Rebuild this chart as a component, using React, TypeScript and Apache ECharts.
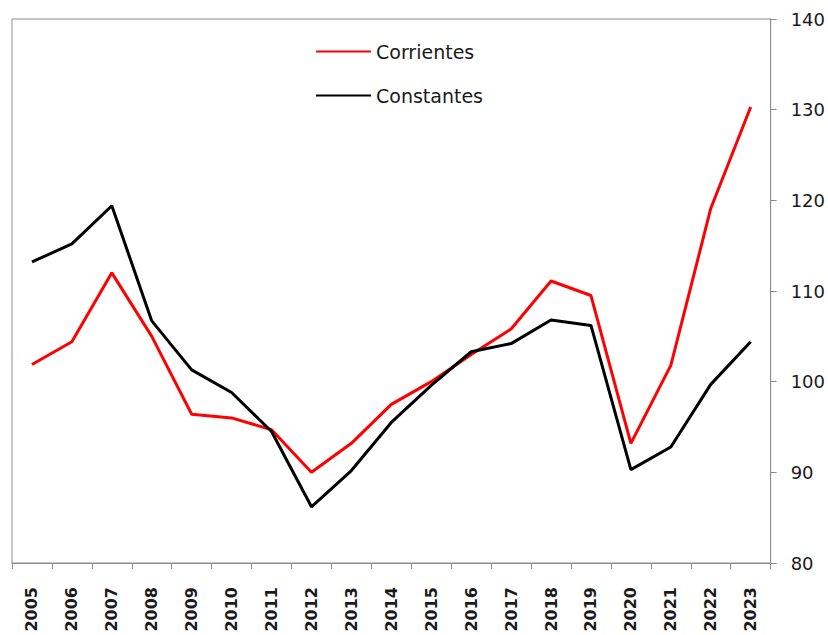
import React, { useEffect, useRef } from "react";
import * as echarts from "echarts";

const years = ["2005","2006","2007","2008","2009","2010","2011","2012","2013","2014","2015","2016","2017","2018","2019","2020","2021","2022","2023"];
const corrientes = [101.9, 104.4, 112.0, 105.0, 96.4, 96.0, 94.7, 90.0, 93.2, 97.5, 100.0, 103.0, 105.8, 111.1, 109.5, 93.2, 101.8, 119.1, 130.3];
const constantes = [113.2, 115.2, 119.4, 106.7, 101.3, 98.8, 94.5, 86.2, 90.2, 95.5, 99.6, 103.3, 104.2, 106.8, 106.2, 90.3, 92.8, 99.7, 104.4];
const yMin = 80;
const yMax = 140;
const yInterval = 10;

export default function App() {
  const ref = useRef<HTMLDivElement>(null);
  useEffect(() => {
    if (!ref.current) return;
    const chart = echarts.init(ref.current, null, { renderer: "svg" });
    chart.setOption({
      animation: false,
      backgroundColor: "#ffffff",
      grid: {
        left: 12,
        right: 57,
        top: 19,
        bottom: 72,
        show: true,
        borderColor: "#8c8c8c",
        borderWidth: 1,
      },
      legend: {
        orient: "vertical",
        left: 316,
        top: 42,
        padding: 0,
        itemWidth: 55,
        itemHeight: 2,
        itemGap: 25,
        icon: "rect",
        data: ["Corrientes", "Constantes"],
        textStyle: { fontFamily: "DejaVu Sans", fontSize: 19, color: "#1a1a1a" },
      },
      xAxis: {
        type: "category",
        data: years,
        boundaryGap: true,
        axisLine: { lineStyle: { color: "#8c8c8c", width: 1 } },
        axisTick: { show: true, length: 6, alignWithLabel: false, lineStyle: { color: "#8c8c8c" } },
        axisLabel: {
          rotate: 90,
          margin: 24,
          interval: 0,
          fontFamily: "DejaVu Sans",
          fontWeight: "bold",
          fontSize: 16,
          color: "#1a1a1a",
        },
        splitLine: { show: false },
      },
      yAxis: {
        type: "value",
        position: "right",
        min: yMin,
        max: yMax,
        interval: yInterval,
        axisLine: { show: true, lineStyle: { color: "#8c8c8c", width: 1 } },
        axisTick: { show: true, inside: false, length: 6, lineStyle: { color: "#8c8c8c" } },
        axisLabel: {
          margin: 20,
          fontFamily: "DejaVu Sans",
          fontSize: 18,
          color: "#1a1a1a",
        },
        splitLine: { show: false },
      },
      series: [
        {
          name: "Corrientes",
          type: "line",
          data: corrientes,
          showSymbol: false,
          symbol: "none",
          lineStyle: { color: "#ff0000", width: 3 },
          itemStyle: { color: "#ff0000" },
        },
        {
          name: "Constantes",
          type: "line",
          data: constantes,
          showSymbol: false,
          symbol: "none",
          lineStyle: { color: "#000000", width: 3 },
          itemStyle: { color: "#000000" },
        },
      ],
    });
    return () => chart.dispose();
  }, []);
  return (
    <div
      ref={ref}
      style={{ position: "fixed", left: 0, top: 0, width: 828, height: 635 }}
    />
  );
}
